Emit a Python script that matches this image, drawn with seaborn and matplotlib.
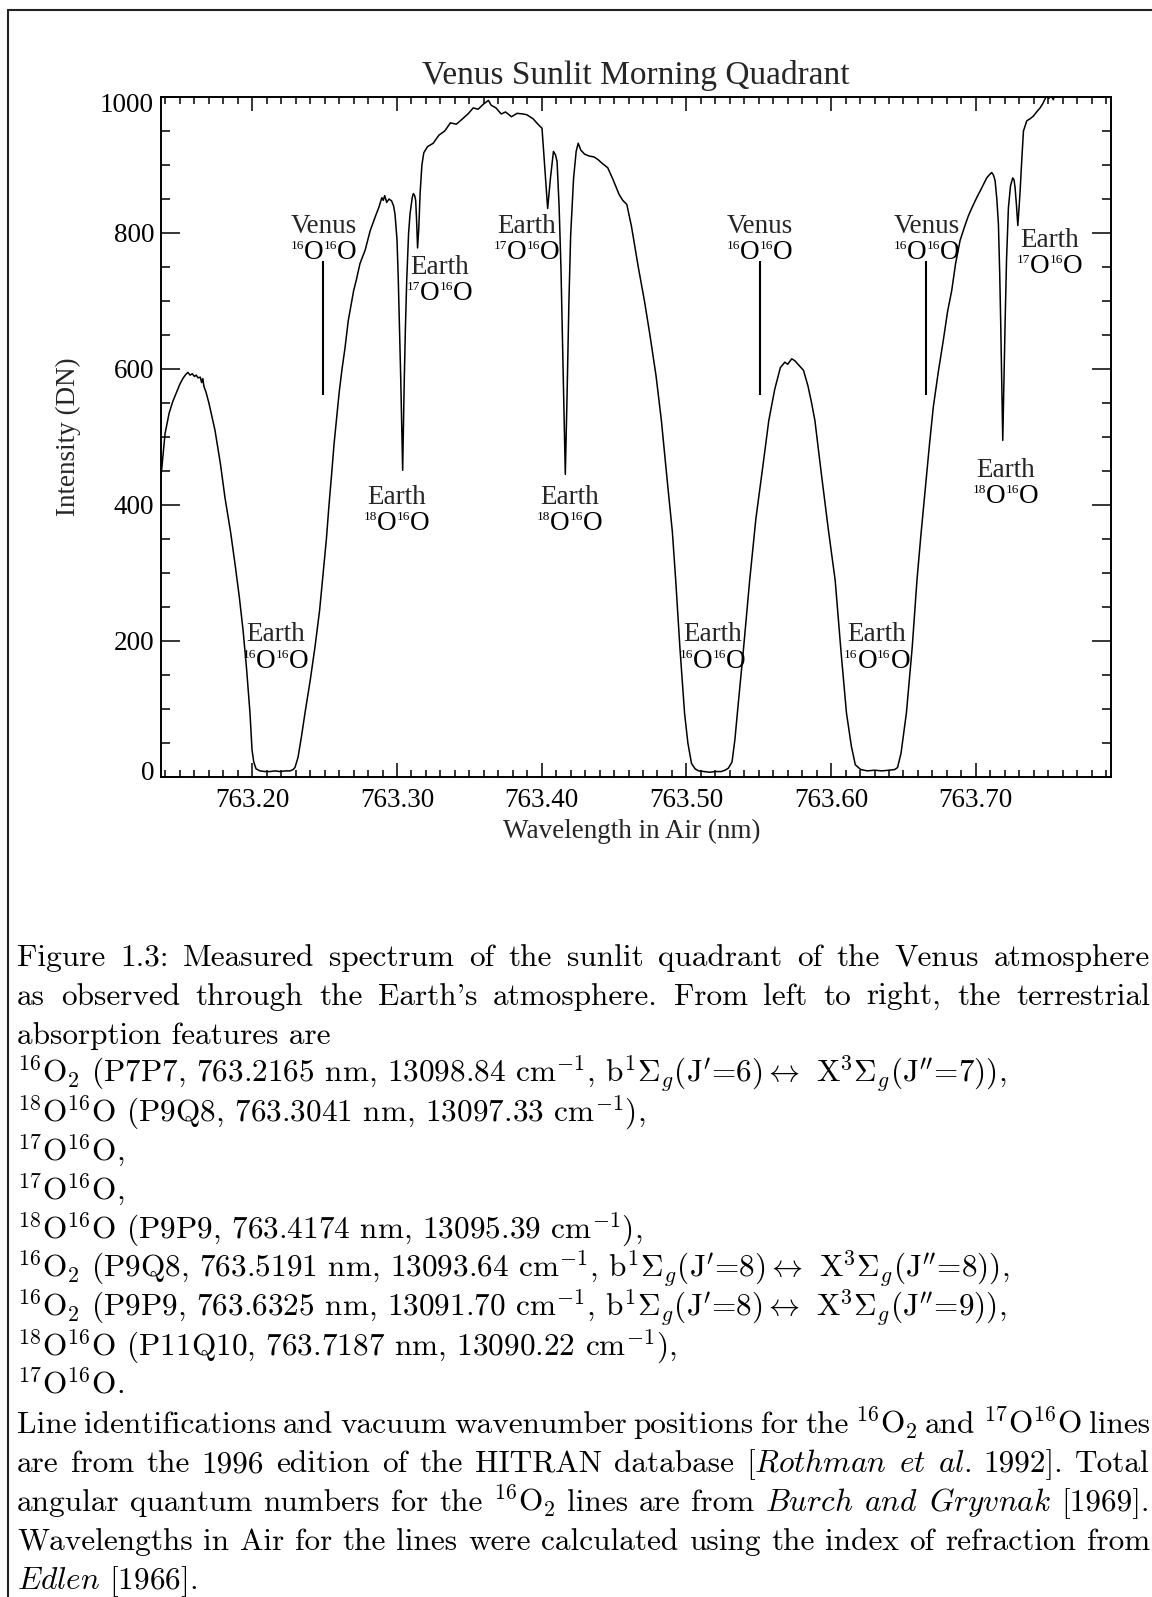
import matplotlib
matplotlib.use("Agg")
import numpy as np
import pandas as pd
import seaborn as sns
import matplotlib.pyplot as plt
from matplotlib.lines import Line2D
from matplotlib.offsetbox import TextArea, HPacker, AnnotationBbox
from matplotlib.transforms import ScaledTranslation

# spectrum (nm, DN)
wavelength = [
    763.1355, 763.1375, 763.1397, 763.1425, 763.1450, 763.1475, 763.1500, 763.1520,
    763.1540, 763.1555, 763.1570, 763.1585, 763.1600, 763.1612, 763.1625, 763.1640,
    763.1650, 763.1658, 763.1666, 763.1680, 763.1700, 763.1742, 763.1780, 763.1811,
    763.1850, 763.1880, 763.1910, 763.1936, 763.1960, 763.1984, 763.1998, 763.2010,
    763.2026, 763.2053, 763.2090, 763.2122, 763.2160, 763.2191, 763.2230, 763.2261,
    763.2282, 763.2295, 763.2316, 763.2340, 763.2364, 763.2400, 763.2433, 763.2465,
    763.2490, 763.2512, 763.2530, 763.2548, 763.2565, 763.2583, 763.2600, 763.2620,
    763.2640, 763.2663, 763.2700, 763.2720, 763.2744, 763.2780, 763.2814, 763.2848,
    763.2875, 763.2895, 763.2905, 763.2915, 763.2929, 763.2945, 763.2963, 763.2976,
    763.2986, 763.3000, 763.3009, 763.3018, 763.3026, 763.3039, 763.3050, 763.3058,
    763.3067, 763.3080, 763.3090, 763.3105, 763.3113, 763.3122, 763.3129, 763.3136,
    763.3142, 763.3150, 763.3160, 763.3172, 763.3185, 763.3211, 763.3250, 763.3290,
    763.3330, 763.3369, 763.3410, 763.3448, 763.3490, 763.3527, 763.3560, 763.3600,
    763.3632, 763.3650, 763.3684, 763.3720, 763.3750, 763.3791, 763.3830, 763.3870,
    763.3896, 763.3940, 763.3974, 763.4002, 763.4020, 763.4041, 763.4060, 763.4081,
    763.4095, 763.4106, 763.4120, 763.4133, 763.4150, 763.4163, 763.4175, 763.4188,
    763.4200, 763.4220, 763.4238, 763.4252, 763.4270, 763.4296, 763.4330, 763.4360,
    763.4389, 763.4420, 763.4456, 763.4490, 763.4534, 763.4560, 763.4588, 763.4620,
    763.4668, 763.4710, 763.4747, 763.4790, 763.4827, 763.4870, 763.4903, 763.4926,
    763.4955, 763.4987, 763.5010, 763.5035, 763.5060, 763.5084, 763.5120, 763.5160,
    763.5200, 763.5240, 763.5267, 763.5290, 763.5315, 763.5335, 763.5352, 763.5395,
    763.5437, 763.5480, 763.5530, 763.5569, 763.5610, 763.5649, 763.5680, 763.5700,
    763.5728, 763.5750, 763.5780, 763.5809, 763.5840, 763.5865, 763.5888, 763.5930,
    763.5980, 763.6028, 763.6070, 763.6106, 763.6140, 763.6167, 763.6204, 763.6250,
    763.6300, 763.6350, 763.6400, 763.6440, 763.6459, 763.6483, 763.6520, 763.6560,
    763.6593, 763.6620, 763.6649, 763.6680, 763.6706, 763.6740, 763.6775, 763.6805,
    763.6833, 763.6860, 763.6891, 763.6920, 763.6948, 763.6975, 763.7006, 763.7040,
    763.7075, 763.7095, 763.7110, 763.7122, 763.7133, 763.7145, 763.7156, 763.7165,
    763.7172, 763.7180, 763.7186, 763.7193, 763.7202, 763.7212, 763.7225, 763.7240,
    763.7255, 763.7264, 763.7271, 763.7281, 763.7290, 763.7298, 763.7306, 763.7318,
    763.7329, 763.7352, 763.7375, 763.7398, 763.7420, 763.7444, 763.7462, 763.7478,
    763.7492, 763.7505, 763.7520, 763.7535, 763.7550, 763.7570, 763.7620, 763.7700,
    763.7800, 763.7930,
]
intensity = [
    417, 455, 505, 535, 552, 565, 578, 586,
    592, 595, 591, 593, 589, 591, 587, 588,
    580, 586, 574, 566, 550, 510, 460, 411,
    360, 314, 265, 216, 160, 94, 40, 22,
    12, 9, 8, 8, 9, 8, 9, 9,
    11, 14, 29, 60, 94, 142, 191, 245,
    300, 350, 400, 445, 490, 528, 565, 600,
    630, 671, 715, 732, 755, 775, 803, 823,
    838, 852, 848, 855, 845, 850, 847, 840,
    828, 790, 730, 650, 583, 451, 583, 660,
    730, 800, 828, 852, 858, 855, 848, 815,
    778, 805, 860, 900, 918, 927, 932, 944,
    950, 962, 960, 967, 975, 984, 982, 990,
    995, 988, 984, 975, 978, 971, 976, 975,
    974, 968, 960, 954, 900, 836, 880, 920,
    915, 905, 840, 748, 580, 445, 560, 700,
    797, 880, 920, 932, 922, 916, 913, 912,
    908, 902, 896, 880, 857, 848, 842, 810,
    749, 700, 651, 590, 524, 430, 360, 289,
    190, 94, 50, 20, 12, 9, 8, 7,
    8, 8, 10, 13, 22, 55, 94, 190,
    289, 380, 460, 524, 570, 602, 610, 607,
    615, 612, 605, 598, 575, 550, 524, 450,
    365, 289, 180, 94, 45, 18, 11, 9,
    10, 9, 10, 11, 14, 35, 94, 190,
    289, 355, 421, 490, 544, 595, 642, 685,
    715, 755, 789, 808, 825, 838, 852, 866,
    881, 886, 889, 885, 877, 850, 813, 740,
    666, 570, 495, 570, 666, 760, 837, 870,
    881, 878, 867, 840, 811, 835, 862, 910,
    950, 965, 968, 972, 978, 984, 990, 997,
    1005, 998, 1003, 996, 1006, 1012, 1018, 1022,
    1026, 1030,
]

# Venus Doppler-shifted 16O16O line markers
venus_wl = [763.2491, 763.5509, 763.6654]
venus_lo, venus_hi = 562, 759

# feature labels: centre wavelength, word, isotope masses, word baseline, isotope baseline
label_x = [763.2160, 763.2495, 763.3297, 763.2995, 763.3896, 763.4191,
           763.5508, 763.5180, 763.6317, 763.6658, 763.7204, 763.7508]
label_word = ["Earth", "Venus", "Earth", "Earth", "Earth", "Earth",
              "Venus", "Earth", "Earth", "Venus", "Earth", "Earth"]
label_iso = [("16", "16"), ("16", "16"), ("17", "16"), ("18", "16"), ("17", "16"), ("18", "16"),
             ("16", "16"), ("16", "16"), ("16", "16"), ("16", "16"), ("18", "16"), ("17", "16")]
label_word_y = [200, 800, 740, 402, 800, 402, 800, 200, 200, 800, 441, 779]
label_iso_y = [161, 762, 702, 363, 762, 363, 762, 161, 161, 762, 403, 741]

x_ticks = [763.20, 763.30, 763.40, 763.50, 763.60, 763.70]
x_tick_labels = ["763.20", "763.30", "763.40", "763.50", "763.60", "763.70"]
y_ticks = [0, 200, 400, 600, 800, 1000]

caption_lines = [
    "Figure 1.3: Measured spectrum of the sunlit quadrant of the Venus atmosphere",
    "as observed through the Earth's atmosphere. From left to right, the terrestrial",
    "absorption features are",
    r"$^{16}$O$_2$ (P7P7, 763.2165 nm, 13098.84 cm$^{-1}$, b$^1\Sigma_g$($\mathrm{J}'$=6)${\leftrightarrow}$ X$^3\Sigma_g$($\mathrm{J}''$=7)),",
    r"$^{18}$O$^{16}$O (P9Q8, 763.3041 nm, 13097.33 cm$^{-1}$),",
    r"$^{17}$O$^{16}$O,",
    r"$^{17}$O$^{16}$O,",
    r"$^{18}$O$^{16}$O (P9P9, 763.4174 nm, 13095.39 cm$^{-1}$),",
    r"$^{16}$O$_2$ (P9Q8, 763.5191 nm, 13093.64 cm$^{-1}$, b$^1\Sigma_g$($\mathrm{J}'$=8)${\leftrightarrow}$ X$^3\Sigma_g$($\mathrm{J}''$=8)),",
    r"$^{16}$O$_2$ (P9P9, 763.6325 nm, 13091.70 cm$^{-1}$, b$^1\Sigma_g$($\mathrm{J}'$=8)${\leftrightarrow}$ X$^3\Sigma_g$($\mathrm{J}''$=9)),",
    r"$^{18}$O$^{16}$O (P11Q10, 763.7187 nm, 13090.22 cm$^{-1}$),",
    r"$^{17}$O$^{16}$O.",
    r"Line identifications and vacuum wavenumber positions for the $^{16}$O$_2$ and $^{17}$O$^{16}$O lines",
    r"are from the 1996 edition of the HITRAN database [$\mathit{Rothman}$ $\mathit{et}$ $\mathit{al.}$ 1992]. Total",
    r"angular quantum numbers for the $^{16}$O$_2$ lines are from $\mathit{Burch}$ $\mathit{and}$ $\mathit{Gryvnak}$ [1969].",
    "Wavelengths in Air for the lines were calculated using the index of refraction from",
    r"$\mathit{Edlen}$ [1966].",
]
caption_justified = [True, True, False, False, False, False, False, False, False,
                     False, False, False, True, True, True, True, False]

W, H = 1152, 1597
serif = "Liberation Serif"

sns.set_style("ticks")
plt.rcParams["font.family"] = [serif, "DejaVu Serif"]
plt.rcParams["mathtext.fontset"] = "custom"
plt.rcParams["mathtext.rm"] = serif

fig = plt.figure(figsize=(W / 100, H / 100), dpi=100)
ax = fig.add_axes([161 / W, 1 - 777 / H, 950 / W, 680 / H])

df = pd.DataFrame({"wl": wavelength, "dn": intensity})
sns.lineplot(data=df, x="wl", y="dn", ax=ax, color="black", linewidth=1.1,
             estimator=None, sort=False)
ax.vlines(venus_wl, venus_lo, venus_hi, color="black", linewidth=1.5)

ax.set_xlim(763.1369, 763.7934)
ax.set_ylim(0, 1000)
ax.set_xticks(x_ticks)
ax.set_xticklabels(x_tick_labels)
ax.set_xticks(np.round(np.arange(763.14, 763.795, 0.01), 2), minor=True)
ax.set_yticks(y_ticks)
ax.set_yticks(np.arange(0, 1001, 50), minor=True)
ax.tick_params(axis="both", which="both", direction="in", top=True, right=True,
               width=1.1, color="black", labelsize=19.5, labelcolor="black")
ax.tick_params(axis="x", which="major", length=9.8, pad=8)
ax.tick_params(axis="x", which="minor", length=4.9)
ax.tick_params(axis="y", which="major", length=13.7, pad=5)
ax.tick_params(axis="y", which="minor", length=6.8)
for s in ax.spines.values():
    s.set_linewidth(1.4)
    s.set_color("black")
ax.set_xlabel("")
ax.set_ylabel("")
ax.set_title("Venus Sunlit Morning Quadrant", fontsize=24, pad=9.6)

# the end labels of the y axis sit a little inside the frame
yt = ax.yaxis.get_major_ticks()
yt[0].label1.set_transform(yt[0].label1.get_transform()
                           + ScaledTranslation(0, 6 / 100, fig.dpi_scale_trans))
yt[-1].label1.set_transform(yt[-1].label1.get_transform()
                            + ScaledTranslation(0, -6 / 100, fig.dpi_scale_trans))

fig.text(68 / W, 1 - 437 / H, "Intensity (DN)", rotation=90, fontsize=19.5,
         ha="center", va="center")
fig.text(631.5 / W, 1 - 838 / H, "Wavelength in Air (nm)", fontsize=19.5,
         ha="center", va="baseline")

# feature labels
big = dict(fontsize=19.5, family=serif, color="black")
sup = dict(fontsize=9.5, family=serif, color="black")
for x, word, iso, wy, iy in zip(label_x, label_word, label_iso, label_word_y, label_iso_y):
    ax.text(x, wy, word, fontsize=19.5, ha="center", va="baseline")
    parts = [TextArea(iso[0], textprops=sup), TextArea("O", textprops=big),
             TextArea(iso[1], textprops=sup), TextArea("O", textprops=big)]
    box = HPacker(children=parts, align="top", pad=0, sep=0)
    ab = AnnotationBbox(box, (x, iy + 9.3), xycoords="data", frameon=False,
                        box_alignment=(0.5, 0.5), pad=0, annotation_clip=False)
    ax.add_artist(ab)

# page frame
fig.add_artist(Line2D([8 / W, 1], [1 - 10 / H, 1 - 10 / H], color="#222222",
                      linewidth=1.5, transform=fig.transFigure))
fig.add_artist(Line2D([8 / W, 8 / W], [1 - 10 / H, 0], color="#222222",
                      linewidth=1.5, transform=fig.transFigure))

# caption, justified like the LaTeX page
cap_font = dict(fontsize=22.5, family="cmr10", math_fontfamily="cm", color="black",
                va="baseline", ha="left")
left_px, right_px = 17, 1150
renderer = fig.canvas.get_renderer()
for i, (line, just) in enumerate(zip(caption_lines, caption_justified)):
    y = 1 - (966 + 38.95 * i) / H
    if not just:
        fig.text(left_px / W, y, line, **cap_font)
        continue
    words = line.split(" ")
    arts = [fig.text(0, y, w, **cap_font) for w in words]
    widths = [a.get_window_extent(renderer).width for a in arts]
    gap = (right_px - left_px - sum(widths)) / (len(words) - 1)
    x = left_px
    for a, w in zip(arts, widths):
        a.set_x(x / W)
        x += w + gap

fig.savefig("out.png", dpi=100)
